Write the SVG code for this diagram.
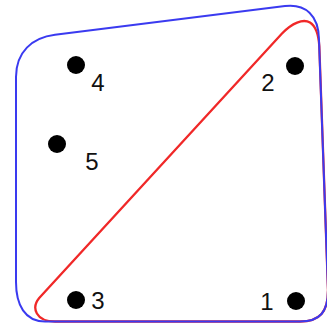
<svg xmlns="http://www.w3.org/2000/svg" width="327" height="324" viewBox="0 0 327 324">
<style>
.dot{fill:#000}
.lbl{font-family:"Liberation Sans",Arial,sans-serif;font-size:24px;fill:#111;text-anchor:middle}
.hull{fill:none;stroke-linejoin:round}
</style>
<rect width="327" height="324" fill="#fff"/>
<g id="connectors">
<path id="red-hull" class="hull" stroke="#f02828" stroke-width="2.3" d="M55,321.5 C36,321.5 31,308 39.2,298 L282,33.5 C292,23 303,18.5 310,22.5 C315.5,26 318.5,34 319.3,46 L328,290 C328,312 320,321.5 300,321.5 Z"/>
<path id="blue-hull" class="hull" stroke="#3a3af0" stroke-width="2" d="M16,282 L16,77 C16,52 32,37.7 55,34.8 L285,6.1 C305,3.6 319,15 319,40 L328,290 C328,312 320,321.5 300,321.5 L45,321.5 C25,321.5 16,305 16,282 Z"/>
</g>
<g id="node1"><circle class="dot" cx="296" cy="301" r="9"/><text class="lbl" x="267" y="310">1</text></g>
<g id="node2"><circle class="dot" cx="295" cy="66" r="9"/><text class="lbl" x="268" y="90.5">2</text></g>
<g id="node3"><circle class="dot" cx="76" cy="300" r="9"/><text class="lbl" x="98" y="309">3</text></g>
<g id="node4"><circle class="dot" cx="76" cy="65" r="9"/><text class="lbl" x="98" y="90.5">4</text></g>
<g id="node5"><circle class="dot" cx="57" cy="144" r="9"/><text class="lbl" x="92" y="170">5</text></g>
</svg>
